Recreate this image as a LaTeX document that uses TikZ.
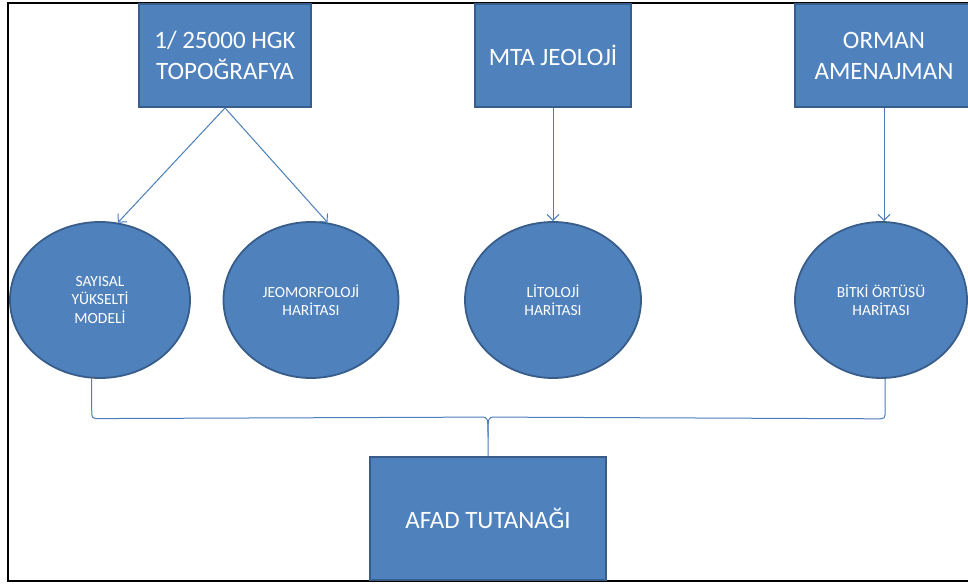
\documentclass[tikz,border=0pt]{standalone}
\usepackage{fontspec}
\setmainfont{Carlito}
\usepackage{tikz}
\usetikzlibrary{shapes.geometric,arrows.meta,calc}
\definecolor{ofill}{HTML}{4F81BD}
\definecolor{oborder}{HTML}{385D8A}
\definecolor{oline}{HTML}{4A7EBB}

\begin{document}
\begin{tikzpicture}[x=1pt, y=-1pt,
  srcbox/.style={rectangle, draw=oborder, fill=ofill, line width=1.8pt, text=white,
    align=center, font=\fontsize{25}{31}\selectfont, inner sep=0pt},
  mapnode/.style={ellipse, draw=oborder, fill=ofill, line width=1.8pt, text=white,
    align=center, font=\fontsize{15.5}{18.5}\selectfont, inner sep=0pt, minimum height=156pt},
  arr/.style={-{Straight Barb[length=6pt,width=12pt]}, line width=1pt, color=oline},
  bracket/.style={line width=1pt, color=oline}
]
\useasboundingbox (0,0) rectangle (968,583);
\draw[line width=2pt] (975,3) -- (8,3) -- (8,581) -- (975,581);

% sources
\node[srcbox, minimum width=172pt, minimum height=103pt] (hgk) at (225,55.5) {1/ 25000 HGK\\TOPOĞRAFYA};
\node[srcbox, minimum width=156pt, minimum height=103pt] (mta) at (553,55.5) {MTA JEOLOJİ};
\node[srcbox, minimum width=178pt, minimum height=103pt] (orman) at (884,55.5) {ORMAN\\AMENAJMAN};

% maps
\node[mapnode, minimum width=180pt] (sym) at (100,300) {SAYISAL\\YÜKSELTİ\\MODELİ};
\node[mapnode, minimum width=175pt] (geo) at (311,300) {JEOMORFOLOJİ\\HARİTASI};
\node[mapnode, minimum width=176pt] (lito) at (553,300) {LİTOLOJİ\\HARİTASI};
\node[mapnode, minimum width=172pt] (veg) at (881,300) {BİTKİ ÖRTÜSÜ\\HARİTASI};

\node[srcbox, minimum width=236pt, minimum height=123pt] (afad) at (488,518.5) {AFAD TUTANAĞI};

\draw[arr] (hgk.south) -- (sym.77);
\draw[arr] (hgk.south) -- (geo.78);
\draw[arr] (mta.south) -- (lito.north);
\draw[arr] (orman.south) -- (orman.south |- veg.north);

% brace
\coordinate (cusp) at ($(afad.north)+(0,-39)$);
\coordinate (lft) at ($(sym.-96)+(0,40)$);
\coordinate (rgt) at ($(veg.-87)+(0,40)$);
\draw[bracket] (sym.-96) -- ($(lft)+(0,-9)$) .. controls (lft) .. ($(lft)+(8,0)$)
  -- ($(cusp)+(-7,0)$) .. controls (cusp) .. ($(cusp)+(0,20)$) -- (afad.north);
\draw[bracket] (veg.-87) -- ($(rgt)+(0,-9)$) .. controls (rgt) .. ($(rgt)+(-8,0)$)
  -- ($(cusp)+(7,0)$) .. controls (cusp) .. ($(cusp)+(0,20)$);
\end{tikzpicture}
\end{document}
